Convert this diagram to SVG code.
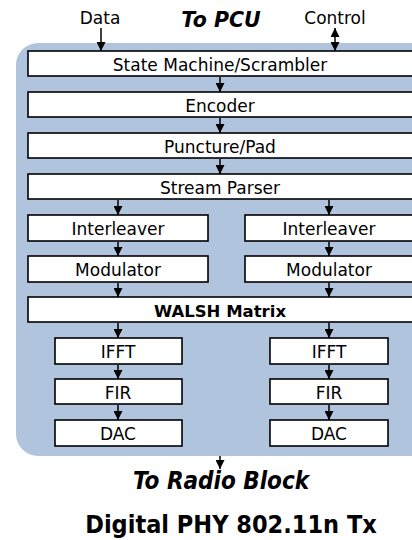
<svg xmlns="http://www.w3.org/2000/svg" width="412" height="540" viewBox="0 0 412 540">
<style>
.box{fill:#fff;stroke:#000;stroke-width:1.6}
.t{font-family:"DejaVu Sans",sans-serif;font-size:17px;fill:#000;text-anchor:middle}
.b{font-weight:bold}
.i{font-style:italic;font-weight:bold}
.cd{font-family:"DejaVu Sans Condensed","DejaVu Sans",sans-serif}
.c line{stroke:#000;stroke-width:1.5}
</style>
<defs>
<marker id="ah" viewBox="0 0 10 10" refX="10" refY="5" markerWidth="9" markerHeight="9" markerUnits="userSpaceOnUse" orient="auto-start-reverse">
<path d="M0,0 L10,5 L0,10 z" fill="#000"/>
</marker>
</defs>
<rect x="16" y="43" width="420" height="413" rx="22" fill="#b0c4de"/>
<g id="labels">
<text class="t" x="100" y="24">Data</text>
<text class="t i" x="221" y="27" style="font-size:20.5px">To  PCU</text>
<text class="t" x="335" y="24">Control</text>
<text class="t i cd" x="221" y="489" style="font-size:24px">To  Radio  Block</text>
<text class="t b cd" x="231" y="533" style="font-size:25px">Digital PHY 802.11n Tx</text>
</g>
<g id="n1"><rect class="box" x="28" y="51" width="400" height="25"/><text class="t" x="220" y="70.5">State Machine/Scrambler</text></g>
<g id="n2"><rect class="box" x="28" y="92" width="400" height="25"/><text class="t" x="220" y="111.5">Encoder</text></g>
<g id="n3"><rect class="box" x="28" y="133" width="400" height="25"/><text class="t" x="220" y="152.5">Puncture/Pad</text></g>
<g id="n4"><rect class="box" x="28" y="174" width="400" height="25"/><text class="t" x="220" y="193.5">Stream Parser</text></g>
<g id="n5"><rect class="box" x="28" y="215" width="180" height="26"/><text class="t" x="118" y="234.5">Interleaver</text></g>
<g id="n6"><rect class="box" x="245" y="215" width="180" height="26"/><text class="t" x="329" y="234.5">Interleaver</text></g>
<g id="n7"><rect class="box" x="28" y="256" width="180" height="26"/><text class="t" x="118" y="275.5">Modulator</text></g>
<g id="n8"><rect class="box" x="245" y="256" width="180" height="26"/><text class="t" x="329" y="275.5">Modulator</text></g>
<g id="n9"><rect class="box" x="28" y="297" width="400" height="25"/><text class="t b" x="220" y="316.5" style="font-size:16.5px">WALSH  Matrix</text></g>
<g id="n10"><rect class="box" x="55" y="338" width="127" height="26"/><text class="t" x="118" y="357.5">IFFT</text></g>
<g id="n11"><rect class="box" x="270" y="338" width="118" height="26"/><text class="t" x="329" y="357.5">IFFT</text></g>
<g id="n12"><rect class="box" x="55" y="379" width="127" height="25"/><text class="t" x="118" y="398.5">FIR</text></g>
<g id="n13"><rect class="box" x="270" y="379" width="118" height="25"/><text class="t" x="329" y="398.5">FIR</text></g>
<g id="n14"><rect class="box" x="55" y="420" width="127" height="26"/><text class="t" x="118" y="439.5">DAC</text></g>
<g id="n15"><rect class="box" x="270" y="420" width="118" height="26"/><text class="t" x="329" y="439.5">DAC</text></g>
<g class="c" id="connectors">
<line x1="101" y1="28" x2="101" y2="51" marker-end="url(#ah)"/>
<line x1="335" y1="28" x2="335" y2="51" marker-start="url(#ah)" marker-end="url(#ah)"/>
<line x1="220" y1="77" x2="220" y2="92" marker-end="url(#ah)"/>
<line x1="220" y1="118" x2="220" y2="133" marker-end="url(#ah)"/>
<line x1="220" y1="159" x2="220" y2="174" marker-end="url(#ah)"/>
<line x1="118" y1="200" x2="118" y2="215" marker-end="url(#ah)"/>
<line x1="329" y1="200" x2="329" y2="215" marker-end="url(#ah)"/>
<line x1="118" y1="242" x2="118" y2="256" marker-end="url(#ah)"/>
<line x1="329" y1="242" x2="329" y2="256" marker-end="url(#ah)"/>
<line x1="118" y1="283" x2="118" y2="297" marker-end="url(#ah)"/>
<line x1="329" y1="283" x2="329" y2="297" marker-end="url(#ah)"/>
<line x1="118" y1="323" x2="118" y2="338" marker-end="url(#ah)"/>
<line x1="329" y1="323" x2="329" y2="338" marker-end="url(#ah)"/>
<line x1="118" y1="365" x2="118" y2="379" marker-end="url(#ah)"/>
<line x1="329" y1="365" x2="329" y2="379" marker-end="url(#ah)"/>
<line x1="118" y1="405" x2="118" y2="420" marker-end="url(#ah)"/>
<line x1="329" y1="405" x2="329" y2="420" marker-end="url(#ah)"/>
<line x1="220" y1="456" x2="220" y2="469" marker-end="url(#ah)"/>
</g>
</svg>
